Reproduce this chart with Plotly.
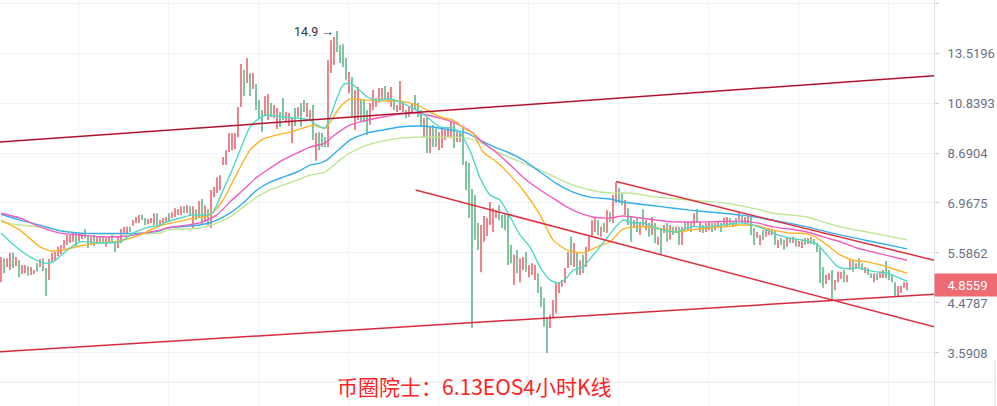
import math
import plotly.graph_objects as go

# ---------------- data ----------------
open_ = [5.05,5.35,5.30,5.25,5.50,5.30,5.40,5.12,5.14,5.25,5.09,5.11,5.30,5.27,5.42,5.20,5.00,5.40,5.45,5.55,
5.60,5.72,5.82,5.90,5.92,6.06,5.92,5.97,6.15,6.00,5.82,5.98,5.84,5.86,5.97,5.80,5.87,6.00,5.85,5.74,
5.90,6.14,6.13,6.25,6.33,6.41,6.45,6.58,6.49,6.37,6.40,6.40,6.60,6.35,6.42,6.45,6.60,6.55,6.60,6.64,
6.66,6.84,6.70,6.85,6.62,6.76,6.55,6.98,6.50,6.76,6.40,7.20,7.35,7.60,8.28,8.30,8.78,9.00,9.05,9.40,
10.70,12.50,11.90,12.30,11.60,11.70,10.90,10.40,10.30,10.20,10.80,10.25,9.80,10.40,10.95,10.00,9.85,9.30,10.50,10.20,
10.70,10.90,10.25,10.10,10.60,8.70,9.35,9.40,9.28,9.00,12.50,13.00,14.40,13.80,13.40,13.00,11.50,12.00,10.40,10.60,
10.90,10.80,10.40,9.90,10.60,10.70,10.95,11.05,11.55,10.95,10.75,10.95,10.45,10.60,10.45,10.45,10.25,10.40,11.10,10.70,
10.40,9.40,10.00,8.80,9.70,9.60,8.90,8.95,9.25,9.35,9.40,9.85,9.15,9.15,9.45,8.35,7.80,7.20,6.80,6.20,
5.70,6.00,6.10,6.40,6.25,6.55,6.85,6.55,6.60,6.40,5.70,5.00,5.55,5.00,5.22,5.55,5.05,5.10,5.00,5.05,
4.75,4.50,4.15,4.03,4.22,4.40,4.70,4.83,4.92,5.25,5.90,5.35,5.50,5.12,5.45,5.30,5.70,6.10,6.30,6.45,
6.05,6.30,6.20,6.65,6.45,7.05,7.40,7.20,6.70,6.75,6.45,6.27,6.45,6.15,6.60,6.22,6.35,6.10,6.35,5.85,
6.10,6.12,6.30,6.00,6.25,6.12,6.22,5.90,6.35,6.22,6.38,6.30,6.65,6.18,6.30,6.16,6.22,6.35,6.20,6.30,
6.35,6.35,6.32,6.48,6.30,6.45,6.48,6.55,6.42,6.45,6.55,6.15,6.00,5.85,6.15,6.02,6.08,6.08,6.15,5.75,
5.92,5.85,5.76,5.95,5.86,5.92,5.77,5.76,5.92,5.84,5.95,5.88,5.80,5.65,5.10,4.90,4.98,5.08,4.78,4.94,
5.00,5.12,4.95,5.20,5.38,5.22,5.38,5.30,5.14,5.20,5.10,4.95,5.08,5.00,5.05,5.15,5.10,5.02,4.90,4.66,
4.70,4.80,4.78]
high = [5.49,5.46,5.46,5.59,5.59,5.49,5.41,5.30,5.30,5.27,5.25,5.18,5.34,5.44,5.46,5.23,5.44,5.59,5.61,5.74,
5.79,5.92,6.05,6.05,6.10,6.10,6.13,6.10,6.21,6.05,6.00,6.05,6.00,6.00,6.00,5.97,6.00,6.05,5.87,6.00,
6.21,6.27,6.27,6.27,6.46,6.55,6.61,6.61,6.52,6.49,6.52,6.66,6.66,6.46,6.52,6.55,6.66,6.69,6.81,6.78,
6.87,6.87,6.90,6.87,6.87,6.78,7.03,7.09,6.90,6.78,7.38,7.48,7.81,7.88,8.54,8.80,9.49,9.49,9.49,10.65,
12.88,12.54,13.22,12.38,12.38,11.79,10.98,10.51,11.18,11.28,10.84,10.74,10.60,10.42,11.08,10.42,10.37,10.14,10.60,10.65,
10.84,10.98,10.84,10.51,10.74,9.49,9.53,9.49,9.32,13.10,14.30,14.51,14.90,14.00,14.05,13.22,12.43,12.16,11.48,11.63,
10.98,10.98,10.51,10.84,11.48,11.08,11.58,11.58,11.68,11.38,11.63,10.98,10.74,11.95,10.88,10.51,10.65,10.79,11.23,10.84,
10.51,10.14,10.14,9.75,9.83,9.70,9.53,9.75,9.62,9.75,10.01,9.92,9.53,9.49,9.75,8.39,8.31,7.41,7.22,6.38,
6.32,6.58,6.52,7.00,6.81,6.75,6.90,6.61,6.66,6.61,5.79,5.54,5.66,5.46,5.49,5.61,5.30,5.34,5.30,5.11,
4.81,4.58,4.19,4.25,4.54,4.89,4.91,4.96,5.23,5.61,6.00,5.84,5.59,5.41,5.54,5.74,6.00,6.46,6.52,6.46,
6.27,6.38,6.75,6.69,7.22,7.64,7.44,7.28,7.06,6.81,6.55,6.46,6.52,6.41,6.78,6.46,6.38,6.55,6.38,6.00,
6.24,6.32,6.38,6.32,6.27,6.27,6.27,6.27,6.41,6.41,6.41,6.66,6.78,6.41,6.32,6.38,6.41,6.38,6.38,6.41,
6.38,6.52,6.55,6.52,6.41,6.52,6.69,6.58,6.55,6.58,6.58,6.24,6.13,6.05,6.18,6.21,6.24,6.21,6.18,5.92,
5.97,5.92,5.97,5.97,6.00,5.94,5.89,5.94,5.97,5.97,6.00,5.94,5.84,5.71,5.25,5.07,5.11,5.18,4.96,5.14,
5.14,5.18,5.07,5.41,5.41,5.34,5.46,5.34,5.25,5.23,5.11,5.11,5.11,5.14,5.18,5.39,5.18,5.09,4.91,4.83,
4.83,4.91,4.91]
low = [4.91,5.11,5.25,5.18,5.23,5.27,5.02,5.09,5.11,5.05,5.07,5.09,5.14,5.25,5.16,4.62,4.96,5.37,5.41,5.51,
5.56,5.69,5.79,5.84,5.87,5.76,5.89,5.94,5.97,5.71,5.79,5.76,5.81,5.84,5.84,5.74,5.84,5.84,5.61,5.71,
5.84,6.10,6.10,6.13,6.30,6.38,6.38,6.46,6.32,6.35,6.38,6.32,6.30,6.32,6.38,6.38,6.41,6.52,6.55,6.61,
6.61,6.66,6.66,6.61,6.21,6.46,6.52,6.32,6.41,6.32,6.24,7.15,7.28,7.38,8.24,8.24,8.73,8.80,8.84,9.32,
10.65,11.18,11.84,11.18,11.53,10.51,10.14,9.53,10.23,10.05,10.19,10.14,9.66,9.75,10.05,9.96,9.79,9.08,9.79,10.19,
9.75,10.42,10.19,10.05,9.20,8.40,8.80,8.92,8.92,8.92,12.38,12.82,13.58,12.94,12.71,12.01,11.33,10.19,9.62,10.05,
9.96,9.96,9.41,9.83,10.51,10.65,10.88,10.98,10.98,10.88,10.65,10.51,10.42,10.51,10.42,10.14,10.19,10.37,10.51,10.19,
9.75,9.32,8.69,8.69,8.92,8.92,8.80,8.88,9.20,9.32,9.28,8.88,9.12,9.12,8.24,7.38,6.52,4.01,5.92,5.66,
5.13,5.87,6.02,6.32,6.13,6.52,6.46,6.24,6.18,5.30,5.34,4.85,5.11,4.91,5.18,5.14,5.02,5.07,4.96,4.68,
4.40,4.03,3.59,4.01,4.19,4.28,4.68,4.81,4.89,5.23,5.30,5.25,5.07,5.07,5.11,5.25,5.66,6.00,6.13,6.05,
6.00,6.13,6.10,6.41,6.38,6.97,6.97,6.90,6.61,6.32,5.87,6.24,6.13,6.05,6.27,6.18,6.00,6.05,5.84,5.79,
5.54,6.10,5.87,5.92,6.05,6.10,5.79,5.79,6.18,6.18,6.13,6.27,6.38,6.13,6.10,6.13,6.18,6.13,6.18,6.27,
6.13,6.32,6.27,6.32,6.27,6.32,6.46,6.38,6.38,6.38,6.05,5.79,5.97,5.79,5.92,6.00,6.05,6.05,5.79,5.71,
5.79,5.66,5.74,5.84,5.84,5.74,5.74,5.71,5.79,5.81,5.81,5.79,5.61,4.89,4.79,4.87,4.96,4.54,4.74,4.91,
4.98,4.91,4.91,5.18,5.14,5.21,5.23,5.18,5.11,5.07,5.00,4.91,4.96,5.00,5.00,5.00,4.96,4.91,4.60,4.62,
4.68,4.79,4.74]
close = [5.35,5.20,5.42,5.50,5.30,5.44,5.10,5.25,5.27,5.08,5.21,5.16,5.16,5.40,5.20,5.00,5.40,5.55,5.58,5.70,
5.75,5.88,6.02,6.02,6.06,5.85,6.08,6.08,6.00,5.80,5.97,5.82,5.97,5.97,5.88,5.93,5.98,5.88,5.66,5.96,
6.15,6.24,6.25,6.16,6.44,6.52,6.58,6.49,6.36,6.46,6.50,6.60,6.35,6.43,6.50,6.52,6.45,6.66,6.78,6.75,
6.84,6.70,6.86,6.65,6.82,6.52,6.98,6.50,6.80,6.40,7.25,7.42,7.75,7.82,8.50,8.72,9.40,9.42,9.45,10.50,
12.60,11.40,13.00,11.40,12.20,10.70,10.30,9.70,11.00,11.10,10.30,10.65,10.50,9.85,10.15,10.38,10.30,10.05,9.90,10.60,
9.90,10.50,10.75,10.45,9.40,9.35,8.95,9.00,9.00,12.80,14.10,14.30,13.70,13.10,12.90,12.20,12.20,10.50,11.20,11.40,
10.10,10.10,9.60,10.70,11.30,11.00,11.45,11.45,11.10,11.30,11.50,10.60,10.70,11.70,10.80,10.20,10.60,10.75,10.60,10.25,
9.85,10.05,8.90,9.60,9.00,9.05,9.40,9.65,9.55,9.70,9.90,9.00,9.45,9.45,8.40,7.50,6.80,6.00,6.10,5.80,
6.20,6.45,6.45,6.90,6.70,6.70,6.55,6.30,6.25,5.60,5.40,5.45,5.20,5.40,5.45,5.20,5.25,5.30,5.25,4.75,
4.45,4.15,3.90,4.20,4.50,4.80,4.88,4.94,5.18,5.55,5.40,5.75,5.15,5.38,5.18,5.70,5.95,6.42,6.48,6.15,
6.22,6.18,6.65,6.45,7.10,7.50,7.05,6.95,7.00,6.40,6.05,6.42,6.20,6.35,6.35,6.42,6.05,6.48,5.95,5.97,
5.75,6.28,6.00,6.28,6.10,6.25,5.90,6.22,6.22,6.38,6.20,6.60,6.45,6.38,6.15,6.35,6.38,6.18,6.35,6.40,
6.18,6.48,6.50,6.36,6.38,6.35,6.65,6.42,6.52,6.55,6.15,5.90,6.10,6.00,5.97,6.18,6.20,6.18,5.85,5.90,
5.82,5.70,5.92,5.86,5.98,5.78,5.86,5.90,5.82,5.94,5.85,5.81,5.65,5.10,4.90,5.03,5.08,4.80,4.92,5.10,
5.12,4.95,5.05,5.38,5.18,5.32,5.25,5.20,5.22,5.10,5.02,5.08,4.98,5.12,5.15,5.05,5.00,4.94,4.65,4.80,
4.80,4.88,4.8559]
candle_index = list(range(len(close)))

# moving averages (candle position, price)
ma_teal_x = [0,3,6.3,9.7,13,15.7,17.3,19.7,23,26.3,33,39.7,44,46.3,49.7,53,55.3,59.7,64,68.7,70.7,73,76.3,79.7,83,85.3,88.7,94,98.7,103,105.3,108,109.7,112,114,116.3,118.7,122,125.3,129.7,133,137.3,142,146.3,150.7,153,156.3,159.7,163,166.3,169.7,173,176.3,179.7,183,185.7,188.7,190.7,194,196.3,199.7,204,207.3,210.7,214,217.3,220.7,225.3,229.7,235.3,240.7,246.3,250.7,255.3,258.7,263,268.7,272,275.3,278.7,282,285.3,288.7,292,295.3,298.7,302]
ma_teal_y = [6.10,5.87,5.66,5.49,5.37,5.34,5.37,5.51,5.71,5.87,5.84,5.87,6.10,6.18,6.27,6.32,6.41,6.52,6.61,6.61,6.69,7.15,7.88,8.80,9.75,10.05,10.28,10.19,10.14,10.05,9.83,9.70,10.19,11.08,11.74,11.84,11.58,11.13,10.98,11.03,10.88,10.60,10.19,9.75,9.70,9.49,8.80,7.78,7.22,7.06,6.55,6.05,5.74,5.25,4.96,4.89,5.02,5.18,5.25,5.44,5.74,6.18,6.46,6.38,6.38,6.27,6.18,6.13,6.27,6.27,6.32,6.38,6.32,6.18,6.05,5.97,5.89,5.81,5.54,5.27,5.21,5.23,5.18,5.14,5.11,5.02,4.93]
ma_orange_x = [0,6.3,13,16.3,20.7,26.3,33,39.7,46.3,53,63,69.7,74,78.7,83,87.3,92,96.3,100.7,104,108,113,116.3,122,127.3,133,138.7,142,146.3,150.7,155.3,157.3,160.7,165.3,169.7,174,179.7,184,188.7,194,198.7,203,207.3,213,218.7,225.3,229.7,235.3,240.7,246.3,252,257.3,263,268.7,272,275.3,279.7,284,288.7,293,297.3,302]
ma_orange_y = [6.46,6.18,5.74,5.64,5.66,5.76,5.84,5.89,6.05,6.30,6.49,6.61,7.06,7.95,8.80,9.24,9.41,9.53,9.70,9.83,9.70,10.65,11.03,10.98,10.93,10.93,10.74,10.51,10.19,10.05,9.62,9.49,8.73,8.35,7.88,7.38,6.61,5.92,5.66,5.59,5.74,5.87,6.21,6.27,6.24,6.13,6.18,6.24,6.27,6.32,6.30,6.18,6.10,6.08,5.97,5.79,5.54,5.41,5.37,5.30,5.21,5.11]
ma_pink_x = [0,6.3,13,19.7,26.3,33,42,46.3,53,55.3,66.3,72,76.3,80.7,85.3,89.7,94,98.7,103,108,110.7,116.3,122,127.3,133,138.7,142,146.3,150.7,154.7,157.3,159.7,165.3,168.7,174,179.7,184,188.7,193,197.3,203,207.3,213,218.7,224,235.3,246.3,252,257.3,263,268.7,274,279.7,285.3,290.7,296.3,302]
ma_pink_y = [6.66,6.52,6.27,6.10,6.05,6.00,6.02,6.08,6.18,6.24,6.38,6.61,7.00,7.38,7.81,8.13,8.43,8.69,8.92,9.08,9.36,9.83,10.05,10.19,10.32,10.37,10.28,10.14,9.96,9.70,9.49,9.20,8.69,8.35,7.81,7.38,7.12,6.84,6.66,6.55,6.52,6.58,6.52,6.46,6.41,6.41,6.43,6.38,6.27,6.21,6.13,6.00,5.87,5.71,5.61,5.51,5.41]
ma_blue_x = [0,6.3,13,19.7,26.3,46.3,53,55.3,66.3,72,76.3,80.7,85.3,89.7,94,98.7,103,106.3,108.7,116.3,122,127.3,133,138.7,144,149.7,155.3,159.7,165.3,168.7,174,179.7,185.3,190.7,196.3,203,207.3,218.7,229.7,240.7,246.3,257.3,268.7,279.7,290.7,302]
ma_blue_y = [6.63,6.46,6.32,6.16,6.10,6.10,6.16,6.24,6.32,6.46,6.66,6.97,7.38,7.64,7.81,7.99,8.24,8.31,8.43,9.20,9.49,9.62,9.75,9.79,9.75,9.62,9.49,9.20,8.88,8.73,8.43,7.99,7.58,7.31,7.15,7.09,7.00,6.87,6.75,6.66,6.61,6.46,6.27,6.05,5.87,5.69]
ma_green_x = [0,6.3,13,19.7,26.3,33,46.3,53,55.3,66.3,72,76.3,80.7,85.3,89.7,94,98.7,103,108,113,116.3,122,127.3,133,138.7,149.7,155.3,159.7,165.3,174,179.7,185.3,190.7,196.3,203,209.7,218.7,229.7,240.7,252,257.3,268.7,274,279.7,290.7,302]
ma_green_y = [6.41,6.32,6.27,6.18,6.10,6.08,6.08,6.10,6.18,6.24,6.38,6.55,6.84,7.15,7.38,7.54,7.71,7.88,7.99,8.43,8.69,9.00,9.16,9.28,9.32,9.32,9.28,9.12,8.73,8.31,8.06,7.78,7.54,7.38,7.28,7.28,7.15,7.06,6.97,6.78,6.66,6.55,6.41,6.27,6.10,5.92]

# trend lines (end points: candle position, price)
resist_x = [-0.33, 311.0]
resist_y = [9.12, 12.23]
support_x = [-0.33, 311.0]
support_y = [3.61, 4.655]
chan_up_x = [205.0, 311.0]
chan_up_y = [7.66, 5.41]
chan_lo_x = [138.2, 311.0]
chan_lo_y = [7.38, 4.03]

# axis ticks
price_ticks = [3.5908, 4.4787, 5.5862, 6.9675, 8.6904, 10.8393, 13.5196, 16.8627]
price_labels = ["3.5908", "4.4787", "5.5862", "6.9675", "8.6904", "10.8393", "13.5196", ""]
grid_x = [25.67, 55.67, 85.67, 115.67, 145.67, 175.67, 205.67, 235.67, 265.67, 295.67]
peak_price = 14.9
peak_index = 111.6
last_price = 4.8559
title_text = "币圈院士：6.13EOS4小时K线"

# ---------------- figure ----------------
fig = go.Figure()

ma_specs = [
    (ma_green_x, ma_green_y, "#bde592"),
    (ma_blue_x, ma_blue_y, "#35aef0"),
    (ma_pink_x, ma_pink_y, "#f05dbd"),
    (ma_orange_x, ma_orange_y, "#ffb324"),
    (ma_teal_x, ma_teal_y, "#4fd8c2"),
]
for xs, ys, col in ma_specs:
    fig.add_trace(go.Scatter(x=xs, y=ys, mode="lines",
                             line=dict(color=col, width=1.4, shape="spline", smoothing=0.6),
                             hoverinfo="skip", showlegend=False))

fig.add_trace(go.Ohlc(
    x=candle_index, open=open_, high=high, low=low, close=close,
    increasing=dict(line=dict(color="#e5414e", width=1.3)),
    decreasing=dict(line=dict(color="#39a66d", width=1.3)),
    tickwidth=0, showlegend=False))

for xs, ys, col in [(resist_x, resist_y, "#b3122e"), (support_x, support_y, "#d62a3c"),
                    (chan_up_x, chan_up_y, "#e0303f"), (chan_lo_x, chan_lo_y, "#e0303f")]:
    fig.add_trace(go.Scatter(x=xs, y=ys, mode="lines", line=dict(color=col, width=1.5),
                             hoverinfo="skip", showlegend=False))

W, H = 997, 406
plot_w = 934
fig.update_layout(
    width=W, height=H,
    margin=dict(l=0, r=W - plot_w, t=0, b=0),
    paper_bgcolor="white", plot_bgcolor="white",
    font=dict(family="Roboto, sans-serif"),
    xaxis=dict(range=[-0.333, 311.0], tickvals=grid_x, showticklabels=False,
               showgrid=True, gridcolor="#f0f3fa", gridwidth=1, zeroline=False,
               rangeslider=dict(visible=False), showline=False, ticks=""),
    yaxis=dict(type="log", side="right", range=[0.45342, 1.23270],
               tickvals=price_ticks, ticktext=price_labels,
               showgrid=True, gridcolor="#f0f3fa", gridwidth=1, zeroline=False,
               ticks="outside", ticklen=4, tickcolor="#c9cdd6",
               showline=True, linecolor="#e0e3eb", linewidth=1,
               tickfont=dict(size=13, color="#6b7184", family="Roboto"),
               ticklabelstandoff=6, automargin=False),
    showlegend=False,
)

# bottom border of the price pane and right edge line
fig.add_shape(type="line", xref="paper", yref="paper", x0=0, x1=993 / plot_w,
              y0=1 - 382 / H, y1=1 - 382 / H, line=dict(color="#e3e6ed", width=1.2))
fig.add_shape(type="line", xref="paper", yref="paper", x0=995 / plot_w, x1=995 / plot_w,
              y0=0, y1=1 - 360 / H, line=dict(color="#d6d9e0", width=1))

# peak annotation
fig.add_annotation(x=peak_index, y=math.log10(peak_price), xref="x", yref="y",
                   text="14.9 →", showarrow=False, xanchor="right", yanchor="middle",
                   font=dict(size=12.5, color="#333333", family="Roboto"))

# last price label
fig.add_annotation(x=1.0, y=math.log10(last_price), xref="paper", yref="y",
                   text="4.8559", showarrow=False, xanchor="left", yanchor="middle",
                   width=W - plot_w, height=20, bgcolor="#ee6b74",
                   font=dict(size=13, color="white", family="Roboto"))

# title text
fig.add_annotation(x=475 / plot_w, y=1 - 386 / H, xref="paper", yref="paper",
                   text=title_text, showarrow=False, xanchor="center", yanchor="middle",
                   font=dict(size=21, color="#ff2222", family="Noto Sans CJK SC"))

fig.write_html(
    "out.html",
    config={"displayModeBar": False},
    post_script="document.body.style.margin='0';document.body.style.padding='0';"
                "document.body.style.overflow='hidden';"
                "document.documentElement.style.overflow='hidden';",
)
